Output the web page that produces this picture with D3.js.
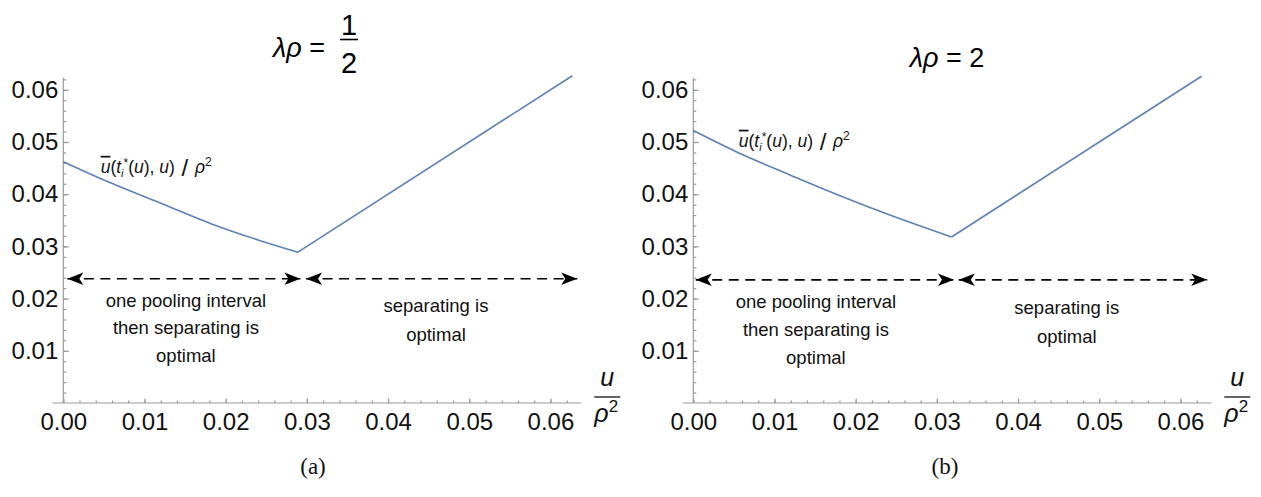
<!DOCTYPE html>
<html lang="en">
<head>
  <meta charset="UTF-8">
  <title>Pooling vs separating</title>
  <script src="https://d3js.org/d3.v7.min.js"></script>
  <style>
    body {
      margin: 0;
      background: #fff;
      font-family: 'Liberation Sans', Arial, sans-serif;
    }

    .axis path, .axis line {
      stroke: #9a9a9a;
      stroke-width: 1.2;
    }

    .axis text {
      font-size: 24px;
      fill: #111;
      font-family: 'Liberation Sans', Arial, sans-serif;
    }

    .note {
      font-size: 18.5px;
      fill: #111;
      text-anchor: middle;
    }
  </style>
</head>
<body>

<div class="chart"></div>

<script>
    // values
    const xTicks = [0, 0.01, 0.02, 0.03, 0.04, 0.05, 0.06];
    const yTicks = [0.01, 0.02, 0.03, 0.04, 0.05, 0.06];

    const uA = [0, 0.00456, 0.01195, 0.0181, 0.02426, 0.0289];
    const vA = [0.0462, 0.0430, 0.0383, 0.0344, 0.0311, 0.0289];
    const sepA_u = [0.0289, 0.0627];
    const sepA_v = [0.0289, 0.0627];

    const uB = [0, 0.00575, 0.01191, 0.01807, 0.02421, 0.0318];
    const vB = [0.0522, 0.0478, 0.0437, 0.0397, 0.0360, 0.0318];
    const sepB_u = [0.0318, 0.0626];
    const sepB_v = [0.0318, 0.0626];

    const arrowsA = [[0.0005, 0.0292], [0.0299, 0.0633]];
    const arrowsB = [[0.0003, 0.0321], [0.0327, 0.0633]];
    const arrowLevelA = 0.0238;
    const arrowLevelB = 0.0236;

    const poolingText = ['one pooling interval', 'then separating is', 'optimal'];
    const separatingText = ['separating is', 'optimal'];

    const width = 1261, height = 497;

    const svg = d3.select('.chart')
      .append('svg')
      .attr('width', width)
      .attr('height', height);

    const defs = svg.append('defs');
    // filled arrowhead with notched back
    ['end', 'start'].forEach(k => {
      defs.append('marker')
        .attr('id', 'arrow-' + k)
        .attr('viewBox', '-18 -8 19 16')
        .attr('refX', 0)
        .attr('refY', 0)
        .attr('markerUnits', 'userSpaceOnUse')
        .attr('markerWidth', 19)
        .attr('markerHeight', 16)
        .attr('orient', k === 'end' ? 'auto' : 'auto-start-reverse')
        .append('path')
        .attr('d', 'M0,0 L-16,-6.2 L-12,0 L-16,6.2 Z')
        .attr('fill', '#000');
    });

    const panels = [
      {
        left: 63.3, u: uA, v: vA, su: sepA_u, sv: sepA_v,
        arrows: arrowsA, level: arrowLevelA,
        pool: { x: 0.0151, y: [0.0197, 0.0144, 0.0090] },
        sep: { x: 0.0459, y: [0.0186, 0.0132] },
        label: { x: 0.0046, y: 0.0441 },
        caption: '(a)', captionX: 313
      },
      {
        left: 693.3, u: uB, v: vB, su: sepB_u, sv: sepB_v,
        arrows: arrowsB, level: arrowLevelB,
        pool: { x: 0.0151, y: [0.0194, 0.0140, 0.0087] },
        sep: { x: 0.0460, y: [0.0183, 0.0128] },
        label: { x: 0.0056, y: 0.0491 },
        caption: '(b)', captionX: 945
      }
    ];

    const y = d3.scaleLinear().domain([0, 0.0623]).range([403, 77.8]);

    panels.forEach(p => {
      const x = d3.scaleLinear().domain([0, 0.0638]).range([p.left, p.left + 518]);
      const g = svg.append('g');

      // x axis: minor ticks, then major with labels
      const xAxisG = g.append('g').attr('class', 'axis')
        .attr('transform', 'translate(0,' + y(0) + ')');
      xAxisG.append('line')
        .attr('x1', x(-0.0013)).attr('x2', x(0.0638));
      xAxisG.append('g')
        .call(d3.axisBottom(x).tickValues(d3.range(0, 0.0631, 0.002)).tickSize(-2.5).tickFormat(''))
        .call(s => s.select('.domain').remove());
      xAxisG.append('g')
        .call(d3.axisBottom(x).tickValues(xTicks).tickSize(-4.5).tickPadding(10).tickFormat(d3.format('.2f')))
        .call(s => s.select('.domain').remove());

      // y axis
      const yAxisG = g.append('g').attr('class', 'axis')
        .attr('transform', 'translate(' + x(0) + ',0)');
      yAxisG.append('line')
        .attr('y1', y(0)).attr('y2', y(0.0623));
      yAxisG.append('g')
        .call(d3.axisLeft(y).tickValues(d3.range(0.002, 0.0621, 0.002)).tickSize(-3).tickFormat(''))
        .call(s => s.select('.domain').remove());
      yAxisG.append('g')
        .call(d3.axisLeft(y).tickValues(yTicks).tickSize(-5.5).tickPadding(5).tickFormat(d3.format('.2f')))
        .call(s => s.select('.domain').remove());

      // curve: pooling branch (smooth) + separating branch (straight)
      const pool = p.u.map((d, i) => [d, p.v[i]]);
      const sep = p.su.map((d, i) => [d, p.sv[i]]);
      g.append('path')
        .datum(pool)
        .attr('fill', 'none')
        .attr('stroke', '#5e81b5')
        .attr('stroke-width', 1.6)
        .attr('d', d3.line().x(d => x(d[0])).y(d => y(d[1])).curve(d3.curveMonotoneX));
      g.append('path')
        .datum(sep)
        .attr('fill', 'none')
        .attr('stroke', '#5e81b5')
        .attr('stroke-width', 1.6)
        .attr('d', d3.line().x(d => x(d[0])).y(d => y(d[1])));

      // dashed double arrows
      g.selectAll('.arr')
        .data(p.arrows)
        .enter().append('line')
        .attr('x1', d => x(d[0]))
        .attr('x2', d => x(d[1]))
        .attr('y1', y(p.level))
        .attr('y2', y(p.level))
        .attr('stroke', '#000')
        .attr('stroke-width', 1.7)
        .attr('stroke-dasharray', '10,6.5')
        .attr('marker-start', 'url(#arrow-start)')
        .attr('marker-end', 'url(#arrow-end)');

      // region notes
      p.pool.y.forEach((yy, i) => {
        g.append('text').attr('class', 'note')
          .attr('x', x(p.pool.x)).attr('y', y(yy)).attr('dy', '0.35em')
          .text(poolingText[i]);
      });
      p.sep.y.forEach((yy, i) => {
        g.append('text').attr('class', 'note')
          .attr('x', x(p.sep.x)).attr('y', y(yy)).attr('dy', '0.35em')
          .text(separatingText[i]);
      });

      // curve label  ū(t_i*(u), u)/ρ²
      const lab = g.append('text')
        .attr('x', x(p.label.x)).attr('y', y(p.label.y))
        .style('font-size', '17.5px')
        .attr('fill', '#111');
      lab.append('tspan').attr('font-style', 'italic').style('text-decoration', 'overline').text('u');
      lab.append('tspan').text('(');
      lab.append('tspan').attr('font-style', 'italic').text('t');
      lab.append('tspan').attr('font-style', 'italic').attr('dy', 4).style('font-size', '11px').text('i');
      lab.append('tspan').attr('dy', -10).style('font-size', '12px').text('*');
      lab.append('tspan').attr('dy', 6).text('(');
      lab.append('tspan').attr('font-style', 'italic').text('u');
      lab.append('tspan').text('), ');
      lab.append('tspan').attr('font-style', 'italic').text('u');
      lab.append('tspan').text(')');
      lab.append('tspan').style('font-size', '24px').attr('dy', 3).text(' / ');
      lab.append('tspan').attr('font-style', 'italic').attr('dy', -3).text('ρ');
      lab.append('tspan').attr('dy', -7).style('font-size', '12px').text('2');

      // axis label u / ρ²
      const ax = x(0.0638) + 26;
      g.append('text')
        .attr('x', ax).attr('y', 386)
        .attr('text-anchor', 'middle')
        .attr('font-style', 'italic')
        .style('font-size', '25px')
        .attr('fill', '#111')
        .text('u');
      g.append('line')
        .attr('x1', ax - 13).attr('x2', ax + 13)
        .attr('y1', 397).attr('y2', 397)
        .attr('stroke', '#111').attr('stroke-width', 1.3);
      const rl = g.append('text')
        .attr('x', ax - 13).attr('y', 422)
        .style('font-size', '25px')
        .attr('fill', '#111');
      rl.append('tspan').attr('font-style', 'italic').text('ρ');
      rl.append('tspan').attr('dy', -10).style('font-size', '17px').text('2');

      // caption
      g.append('text')
        .attr('x', p.captionX).attr('y', 474)
        .attr('text-anchor', 'middle')
        .style('font-family', "'Liberation Serif', 'DejaVu Serif', serif")
        .style('font-size', '23px')
        .attr('fill', '#111')
        .text(p.caption);
    });

    // titles
    const t1 = svg.append('text')
      .attr('x', 325).attr('y', 57)
      .attr('text-anchor', 'end')
      .style('font-size', '27px')
      .attr('fill', '#000');
    t1.append('tspan').attr('font-style', 'italic').text('λρ');
    t1.append('tspan').text(' =');
    svg.append('text')
      .attr('x', 349).attr('y', 35)
      .attr('text-anchor', 'middle')
      .style('font-size', '29px')
      .text('1');
    svg.append('line')
      .attr('x1', 340).attr('x2', 358)
      .attr('y1', 39.5).attr('y2', 39.5)
      .attr('stroke', '#000').attr('stroke-width', 1.6);
    svg.append('text')
      .attr('x', 349).attr('y', 73)
      .attr('text-anchor', 'middle')
      .style('font-size', '29px')
      .text('2');

    const t2 = svg.append('text')
      .attr('x', 947).attr('y', 67)
      .attr('text-anchor', 'middle')
      .style('font-size', '27px')
      .attr('fill', '#000');
    t2.append('tspan').attr('font-style', 'italic').text('λρ');
    t2.append('tspan').text(' = 2');
</script>
</body>
</html>
